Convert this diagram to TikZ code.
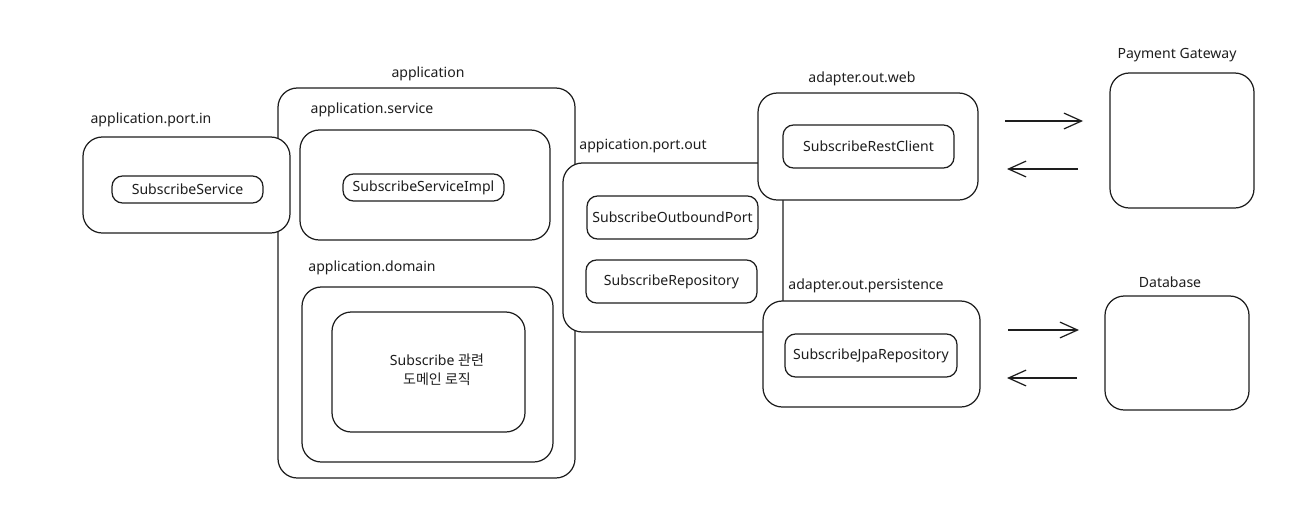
\documentclass[tikz,border=0pt]{standalone}
\usepackage{fontspec}
\setmainfont{Noto Sans}
\newfontfamily\kr{Noto Sans CJK KR}
\usetikzlibrary{arrows.meta}
\definecolor{ink}{HTML}{1E1E1E}
\newcommand\bx[7][]{%
  \pgfmathsetmacro\cx{(#3+#5)/2}\pgfmathsetmacro\cy{(#4+#6)/2}%
  \pgfmathsetmacro\ww{(#5-#3)*0.02}\pgfmathsetmacro\hh{(#6-#4)*0.02}%
  \node[#1, minimum width=\ww cm, minimum height=\hh cm] (#2) at (\cx,\cy) {#7};}
\tikzset{
  base/.style={draw=ink, line width=0.7pt, fill=white, inner sep=0pt, outer sep=0pt, font=\fontsize{8}{10}\selectfont, text=ink},
  outerbox/.style={base, rounded corners=11pt},
  innerbox/.style={base, rounded corners=6pt},
  lbl/.style={inner sep=0pt, font=\fontsize{8}{10}\selectfont, text=ink},
  arr/.style={draw=ink, line width=0.7pt, -{Straight Barb[length=10pt, width=9pt, line width=0.7pt]}}
}
\begin{document}
\begin{tikzpicture}[x=0.02cm, y=-0.02cm]
\fill[white] (0,0) rectangle (1294,518);
% application
\bx[outerbox]{app}{278}{88}{575}{478}{}
\node[lbl] (appl) at (428,74) {application};
% port.in
\bx[outerbox]{pin}{83}{137}{290}{233}{}
\node[lbl] (pinl) at (151,120) {application.port.in};
\bx[innerbox]{ss}{112}{176}{263}{203}{SubscribeService}
% service
\bx[outerbox]{svc}{300}{130}{550}{240}{}
\node[lbl] (svcl) at (372,110) {application.service};
\bx[innerbox]{ssi}{343}{174}{504}{201}{SubscribeServiceImpl}
% domain
\bx[outerbox]{dom}{302}{287}{553}{462}{}
\node[lbl] (doml) at (372,268) {application.domain};
\bx[outerbox]{domi}{332}{312}{525}{432}{}
\node[lbl, align=center] (domt) at (437,370) {Subscribe {\kr 관련}\\[1pt]{\kr 도메인 로직}};
% port.out
\bx[outerbox]{pout}{563}{163}{783}{332}{}
\node[lbl] (poutl) at (643,146) {appication.port.out};
\bx[innerbox]{sop}{587}{196}{758}{239}{SubscribeOutboundPort}
\bx[innerbox]{sr}{586}{260}{757}{303}{SubscribeRepository}
% adapter.out.web
\bx[outerbox]{web}{758}{93}{978}{200}{}
\node[lbl] (webl) at (862,79) {adapter.out.web};
\bx[innerbox]{src}{783}{125}{954}{168}{SubscribeRestClient}
% adapter.out.persistence
\bx[outerbox]{per}{763}{301}{980}{407}{}
\node[lbl] (perl) at (866,286) {adapter.out.persistence};
\bx[innerbox]{sjr}{785}{334}{957}{377}{SubscribeJpaRepository}
% Payment Gateway
\bx[outerbox]{pg}{1110}{73}{1254}{208}{}
\node[lbl] (pgl) at (1177,55) {Payment Gateway};
% Database
\bx[outerbox]{db}{1105}{296}{1249}{410}{}
\node[lbl] (dbl) at (1170,282) {Database};
% arrows
\coordinate (a1s) at (1005,121); \coordinate (a1e) at (1083,121);
\coordinate (a2s) at (1078,169); \coordinate (a2e) at (1007,169);
\coordinate (a3s) at (1008,330); \coordinate (a3e) at (1079,330);
\coordinate (a4s) at (1077,378); \coordinate (a4e) at (1007,378);
\draw[arr] (a1s) -- (a1e);
\draw[arr] (a2s) -- (a2e);
\draw[arr] (a3s) -- (a3e);
\draw[arr] (a4s) -- (a4e);
\end{tikzpicture}
\end{document}
